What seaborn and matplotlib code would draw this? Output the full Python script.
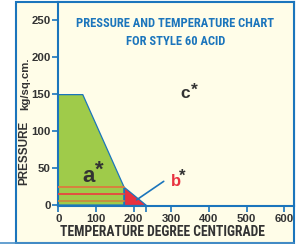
import matplotlib
matplotlib.use("Agg")
import matplotlib.pyplot as plt
import seaborn as sns
import pandas as pd
from matplotlib.patches import Rectangle
from matplotlib.lines import Line2D

# zone outlines, temperature (deg C) vs pressure (kg/sq.cm.)
safe_temp = [0, 0, 65, 174, 174]
safe_press = [0, 149, 149, 25, 0]
limit_temp = [174, 174, 232]
limit_press = [25, 0, 0]
band_press = [25, 15, 5]
band_end = 174
pointer_temp = [208, 280]
pointer_press = [7, 32]
x_ticks = [0, 100, 200, 300, 400, 500, 600]
y_ticks = [0, 50, 100, 150, 200, 250]
zone_labels = ["a", "b", "c"]
zone_temp = [80, 312, 337]
zone_press = [39, 32, 151]
star_temp = [109, 330, 362]
star_press = [47, 39, 155]

BLUE = "#1b75bc"
CREAM = "#fffde8"
GREEN = "#9fcb4a"
RED = "#e8323f"
DARK = "#333333"
band_colors = ["#dc7a3e", "#e8463f", "#c98a3e"]

sns.set_theme(style="white")
plt.rcParams["font.family"] = ["Liberation Sans", "DejaVu Sans"]
plt.rcParams["font.weight"] = "bold"
NARROW = ["Roboto Condensed", "Liberation Sans", "DejaVu Sans"]

W, H = 302, 244
fig = plt.figure(figsize=(W / 100, H / 100), dpi=100)
fig.patch.set_facecolor("white")

# cream panel with blue border, kept behind the axes
frame = Rectangle((16 / W, 1 - 243 / H), (294 - 16) / W, (243 - 2) / H,
                  transform=fig.transFigure, facecolor=CREAM, edgecolor=BLUE,
                  lw=1.5, zorder=-5)
fig.patches.append(frame)
fig.lines.append(Line2D([0, 294 / W], [1 - 242.8 / H] * 2, transform=fig.transFigure,
                        color="#4a90c8", lw=1.2, zorder=-4))

ax = fig.add_axes([58.3 / W, 1 - 206 / H, (294 - 58.3) / W, (206 - 2) / H])
ax.set_facecolor(CREAM)

ax.fill(safe_temp, safe_press, facecolor=GREEN, edgecolor=BLUE, lw=0.9, zorder=2)
ax.fill(limit_temp, limit_press, facecolor=RED, edgecolor=BLUE, lw=0.9, zorder=2)

for p, c in zip(band_press, band_colors):
    df = pd.DataFrame({"t": [0, band_end], "p": [p, p]})
    sns.lineplot(data=df, x="t", y="p", color=c, lw=1.3, ax=ax, zorder=3)

df_ptr = pd.DataFrame({"t": pointer_temp, "p": pointer_press})
sns.lineplot(data=df_ptr, x="t", y="p", color=BLUE, lw=1.2, ax=ax, zorder=4)

sizes = [16, 12, 12.5]
colors = [DARK, RED, DARK]
for lab, tx, py, sx, sy, fs, col in zip(zone_labels, zone_temp, zone_press,
                                        star_temp, star_press, sizes, colors):
    ax.text(tx, py, lab, fontsize=fs, color=col, ha="center", va="center",
            fontweight="bold", zorder=5)
    ax.text(sx, sy, "*", fontsize=fs, color=DARK, ha="center", va="center",
            fontweight="bold", zorder=5)

ax.text(0.497, 0.897, "PRESSURE AND TEMPERATURE CHART", transform=ax.transAxes,
        ha="center", va="center", fontsize=9, color=BLUE, family=NARROW,
        fontweight="bold")
ax.text(0.497, 0.804, "FOR STYLE 60 ACID", transform=ax.transAxes,
        ha="center", va="center", fontsize=9, color=BLUE, family=NARROW,
        fontweight="bold")

ax.set_xlim(0, 626)
ax.set_ylim(-1.3, 274)
ax.set_xticks(x_ticks)
ax.set_yticks(y_ticks)
ax.set_xticks([232], minor=True)
ax.tick_params(which="both", direction="out", length=4.5, width=1.2, color=BLUE,
               labelsize=8.2, labelcolor=DARK, pad=1,
               bottom=True, left=True)
for spine in ax.spines.values():
    spine.set_color(BLUE)
    spine.set_linewidth(1.5)

ax.set_xlabel("TEMPERATURE DEGREE CENTIGRADE", fontsize=9.8, color=DARK,
              family=NARROW, fontweight="bold", va="center")
ax.xaxis.set_label_coords((162 - 58.3) / (294 - 58.3), -0.127)
ax.set_ylabel("")

fig.text(27.5 / W, 1 - 153 / H, "PRESSURE", rotation=90, rotation_mode="anchor",
         ha="center", va="baseline", fontsize=8.4, color=DARK, fontweight="bold")
fig.text(28.5 / W, 1 - 84 / H, "kg/sq.cm.", rotation=90, rotation_mode="anchor",
         ha="center", va="baseline", fontsize=8.2, color=DARK, fontweight="bold")

fig.savefig("out.png", dpi=100, facecolor="white")
